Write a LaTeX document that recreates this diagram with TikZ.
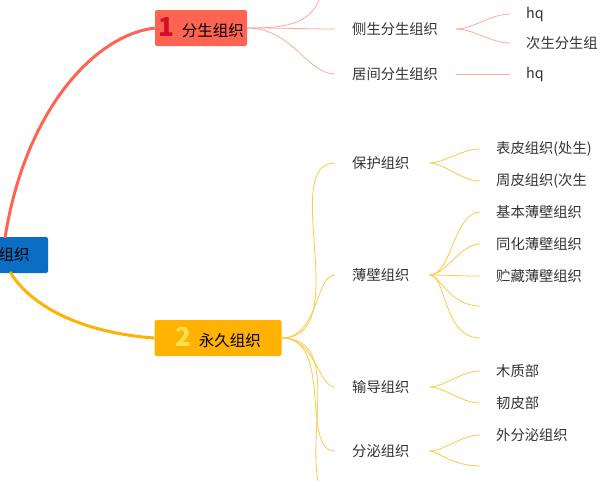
\documentclass[tikz,border=0pt]{standalone}
\usepackage{fontspec}
\setmainfont{Noto Sans CJK SC}
\definecolor{rootblue}{HTML}{0A6FC2}
\definecolor{redmain}{HTML}{FF6352}
\definecolor{redline}{HTML}{FFA99C}
\definecolor{rednum}{HTML}{D0102A}
\definecolor{ylwmain}{HTML}{FFB300}
\definecolor{ylwline}{HTML}{FFC845}
\definecolor{ylwnum}{HTML}{F7E14A}
\definecolor{txt}{HTML}{333333}
\begin{document}
\begin{tikzpicture}[
    x=1pt, y=-1pt,
    topic/.style={
      rectangle,
      rounded corners=2pt,
      minimum height=36pt,
      inner sep=0pt,
      font=\fontsize{15.5}{18}\selectfont
    },
    sub/.style={
      anchor=west,
      inner sep=0pt,
      text=txt,
      font=\fontsize{14.3}{17}\selectfont
    },
    redlink/.style={draw=redline, line width=0.8pt},
    ylwlink/.style={draw=ylwline, line width=0.8pt}
  ]
  \useasboundingbox (0,0) rectangle (600,480);

  \node[topic, fill=rootblue, minimum width=68pt] (root) at (14,255) {组织};

  \node[topic, fill=redmain, minimum width=92pt] (m1) at (201,28)
    {\textcolor{rednum}{\fontsize{26}{26}\selectfont\bfseries 1}\hspace{8pt}分生组织};
  \node[topic, fill=ylwmain, minimum width=127pt] (m2) at (218,338)
    {\textcolor{ylwnum}{\fontsize{26}{26}\selectfont\bfseries 2}\hspace{8pt}永久组织};

  \draw[redmain, line width=3pt] (5,238) .. controls (25,110) and (95,35) .. (m1.west);
  \draw[ylwmain, line width=3pt] (10,272) .. controls (40,320) and (110,335) .. (m2.west);

  % branch 1
  \node[sub] (s1) at (352,29) {侧生分生组织};
  \node[sub] (s2) at (352,74) {居间分生组织};
  \node[sub] (s1a) at (526,14) {hq};
  \node[sub] (s1b) at (526,43) {次生分生组};
  \node[sub] (s2a) at (526,74) {hq};
  \coordinate (s0) at (320,-2);

  \draw[redlink] (m1.east) to[out=0,in=-110] (s0);
  \draw[redlink, shorten >=17pt] (m1.east) to[out=0,in=180] (s1.west);
  \draw[redlink, shorten >=17pt] (m1.east) to[out=0,in=180] (s2.west);
  \draw[redlink, shorten <=18pt, shorten >=16pt] (s1.east) to[out=0,in=180] (s1a.west);
  \draw[redlink, shorten <=18pt, shorten >=16pt] (s1.east) to[out=0,in=180] (s1b.west);
  \draw[redlink, shorten <=18pt, shorten >=16pt] (s2.east) -- (s2a.west);

  % branch 2
  \node[sub] (p1) at (352,163) {保护组织};
  \node[sub] (p2) at (352,275) {薄壁组织};
  \node[sub] (p3) at (352,387) {输导组织};
  \node[sub] (p4) at (352,451) {分泌组织};
  \coordinate (p5) at (318,482);

  \node[sub] (p1a) at (496,149) {表皮组织(处生)};
  \node[sub] (p1b) at (496,181) {周皮组织(次生};
  \node[sub] (p2a) at (496,212) {基本薄壁组织};
  \node[sub] (p2b) at (496,244) {同化薄壁组织};
  \node[sub] (p2c) at (496,276) {贮藏薄壁组织};
  \coordinate (p2d) at (480,306);
  \coordinate (p2e) at (480,338);
  \node[sub] (p3a) at (496,371) {木质部};
  \node[sub] (p3b) at (496,403) {韧皮部};
  \node[sub] (p4a) at (496,435) {外分泌组织};
  \coordinate (p4b) at (480,466);

  \foreach \k in {p1,p2,p3,p4}
    \draw[ylwlink, shorten >=17pt] (m2.east) to[out=0,in=180] (\k.west);
  \draw[ylwlink] (m2.east) to[out=0,in=100] (p5);

  \foreach \p/\c in {p1/p1a,p1/p1b,p2/p2a,p2/p2b,p2/p2c,p3/p3a,p3/p3b,p4/p4a}
    \draw[ylwlink, shorten <=20pt, shorten >=16pt] (\p.east) to[out=0,in=180] (\c.west);
  \foreach \p/\c in {p2/p2d,p2/p2e,p4/p4b}
    \draw[ylwlink, shorten <=20pt] (\p.east) to[out=0,in=180] (\c);
\end{tikzpicture}
\end{document}
